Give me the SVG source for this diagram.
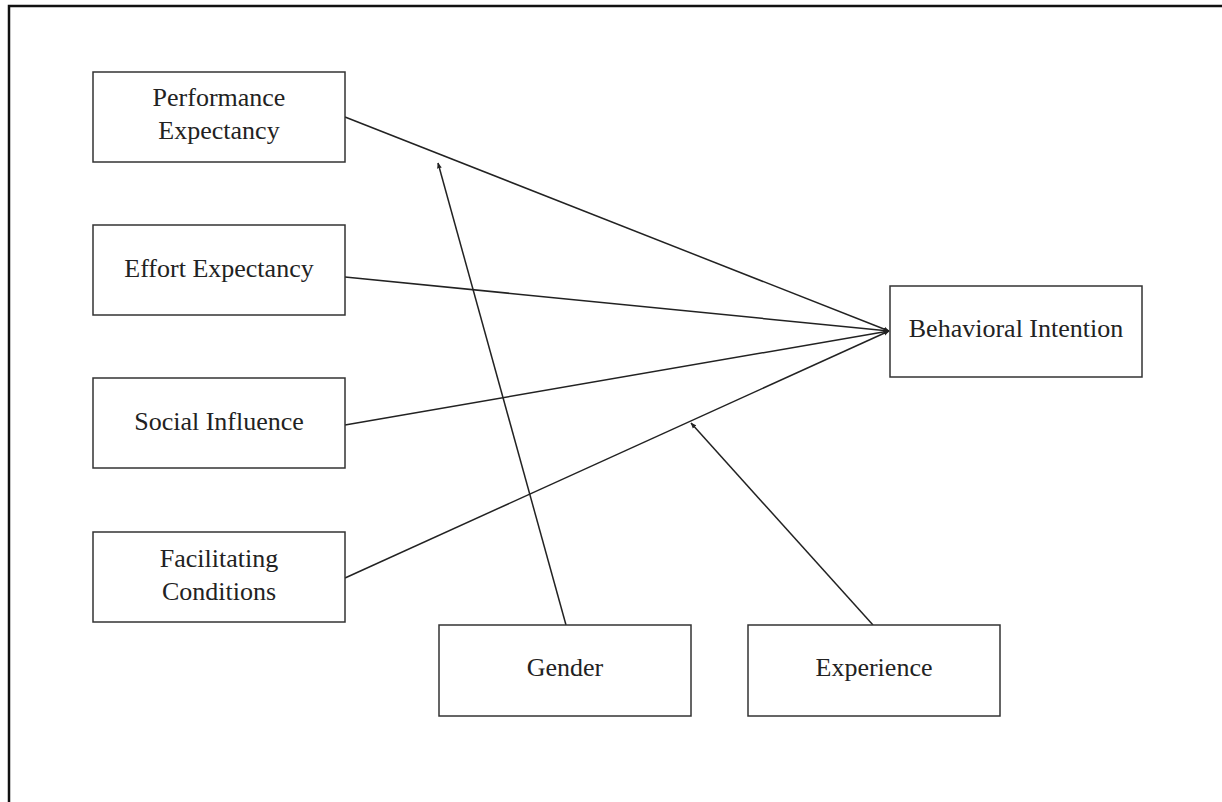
<svg xmlns="http://www.w3.org/2000/svg" width="1222" height="802" viewBox="0 0 1222 802">
<style>
.box{fill:#fff;stroke:#333;stroke-width:1.5}
.t{font-family:"Liberation Serif","Times New Roman",serif;font-size:26px;fill:#222;text-anchor:middle}
.c{stroke:#222;stroke-width:1.5;fill:none}
</style>
<defs>
<marker id="ah" viewBox="0 0 10 10" refX="9" refY="5" markerWidth="6" markerHeight="6" orient="auto" markerUnits="userSpaceOnUse">
<path d="M0,1 L10,5 L0,9 z" fill="#222"/>
</marker>
</defs>
<rect width="1222" height="802" fill="#fff"/>
<path d="M9,802 L9,6 L1222,6" fill="none" stroke="#111" stroke-width="2.5"/>
<g id="connectors">
<line class="c" x1="345" y1="117" x2="889" y2="331" marker-end="url(#ah)"/>
<line class="c" x1="345" y1="277" x2="889" y2="331" marker-end="url(#ah)"/>
<line class="c" x1="345" y1="425" x2="889" y2="331" marker-end="url(#ah)"/>
<line class="c" x1="345" y1="578" x2="889" y2="331" marker-end="url(#ah)"/>
<line class="c" x1="566" y1="625" x2="438" y2="163" marker-end="url(#ah)"/>
<line class="c" x1="873" y1="625" x2="691" y2="423" marker-end="url(#ah)"/>
</g>
<g id="performance-expectancy">
<rect class="box" x="93" y="72" width="252" height="90"/>
<text class="t" x="219" y="106">Performance</text>
<text class="t" x="219" y="139">Expectancy</text>
</g>
<g id="effort-expectancy">
<rect class="box" x="93" y="225" width="252" height="90"/>
<text class="t" x="219" y="277">Effort Expectancy</text>
</g>
<g id="social-influence">
<rect class="box" x="93" y="378" width="252" height="90"/>
<text class="t" x="219" y="430">Social Influence</text>
</g>
<g id="facilitating-conditions">
<rect class="box" x="93" y="532" width="252" height="90"/>
<text class="t" x="219" y="567">Facilitating</text>
<text class="t" x="219" y="600">Conditions</text>
</g>
<g id="behavioral-intention">
<rect class="box" x="890" y="286" width="252" height="91"/>
<text class="t" x="1016" y="337">Behavioral Intention</text>
</g>
<g id="gender">
<rect class="box" x="439" y="625" width="252" height="91"/>
<text class="t" x="565" y="676">Gender</text>
</g>
<g id="experience">
<rect class="box" x="748" y="625" width="252" height="91"/>
<text class="t" x="874" y="676">Experience</text>
</g>
</svg>
